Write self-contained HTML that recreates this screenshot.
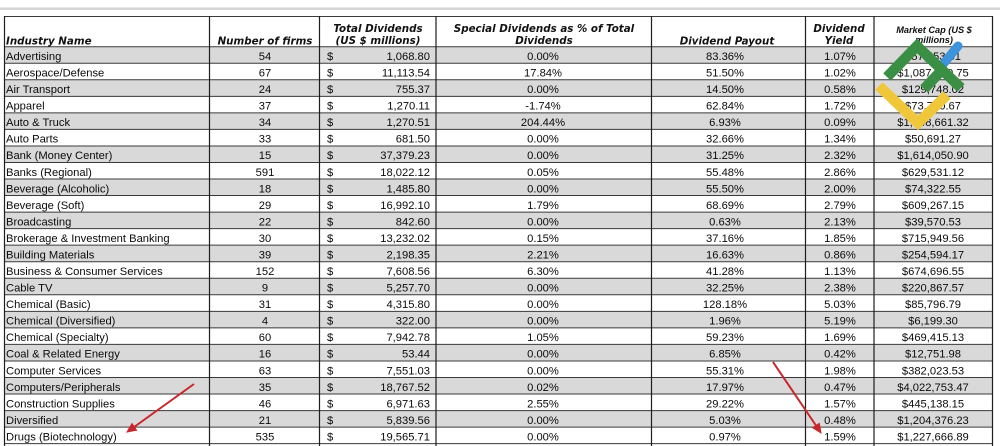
<!DOCTYPE html>
<html>
<head>
<meta charset="utf-8">
<style>
html,body{margin:0;padding:0;background:#fff;}
svg{display:block;}
.h{font-family:"DejaVu Sans","Liberation Sans",sans-serif;font-weight:bold;font-style:italic;font-size:10.3px;fill:#111;}
.m{font-family:"Liberation Sans",sans-serif;font-weight:bold;font-style:italic;font-size:9.2px;fill:#111;}
.d{font-family:"Liberation Sans",sans-serif;font-size:11.2px;fill:#0a0a0a;}
</style>
</head>
<body>
<svg width="1000" height="446" viewBox="0 0 1000 446" xmlns="http://www.w3.org/2000/svg">
<rect x="0" y="0" width="1000" height="446" fill="#fff"/>
<rect x="0" y="7.5" width="1000" height="2.5" fill="#d4d4d4"/>

<g fill="#d9d9d9">
<rect x="4" y="46.7" width="989" height="16.54"/>
<rect x="4" y="79.78" width="989" height="16.54"/>
<rect x="4" y="112.86" width="989" height="16.54"/>
<rect x="4" y="145.94" width="989" height="16.54"/>
<rect x="4" y="179.02" width="989" height="16.54"/>
<rect x="4" y="212.1" width="989" height="16.54"/>
<rect x="4" y="245.18" width="989" height="16.54"/>
<rect x="4" y="278.26" width="989" height="16.54"/>
<rect x="4" y="311.34" width="989" height="16.54"/>
<rect x="4" y="344.42" width="989" height="16.54"/>
<rect x="4" y="377.5" width="989" height="16.54"/>
<rect x="4" y="410.58" width="989" height="16.54"/>
</g>

<g stroke="#3a3a3a" stroke-width="1">
<line x1="4" y1="16.5" x2="993" y2="16.5"/>
<line x1="4" y1="46.7" x2="993" y2="46.7"/>
<line x1="4" y1="63.24" x2="993" y2="63.24"/>
<line x1="4" y1="79.78" x2="993" y2="79.78"/>
<line x1="4" y1="96.32" x2="993" y2="96.32"/>
<line x1="4" y1="112.86" x2="993" y2="112.86"/>
<line x1="4" y1="129.4" x2="993" y2="129.4"/>
<line x1="4" y1="145.94" x2="993" y2="145.94"/>
<line x1="4" y1="162.48" x2="993" y2="162.48"/>
<line x1="4" y1="179.02" x2="993" y2="179.02"/>
<line x1="4" y1="195.56" x2="993" y2="195.56"/>
<line x1="4" y1="212.1" x2="993" y2="212.1"/>
<line x1="4" y1="228.64" x2="993" y2="228.64"/>
<line x1="4" y1="245.18" x2="993" y2="245.18"/>
<line x1="4" y1="261.72" x2="993" y2="261.72"/>
<line x1="4" y1="278.26" x2="993" y2="278.26"/>
<line x1="4" y1="294.8" x2="993" y2="294.8"/>
<line x1="4" y1="311.34" x2="993" y2="311.34"/>
<line x1="4" y1="327.88" x2="993" y2="327.88"/>
<line x1="4" y1="344.42" x2="993" y2="344.42"/>
<line x1="4" y1="360.96" x2="993" y2="360.96"/>
<line x1="4" y1="377.5" x2="993" y2="377.5"/>
<line x1="4" y1="394.04" x2="993" y2="394.04"/>
<line x1="4" y1="410.58" x2="993" y2="410.58"/>
<line x1="4" y1="427.12" x2="993" y2="427.12"/>
<line x1="4" y1="443.66" x2="993" y2="443.66"/>
</g>
<g stroke="#1e1e1e" stroke-width="1.2">
<line x1="4.5" y1="16" x2="4.5" y2="446"/>
<line x1="209.5" y1="16" x2="209.5" y2="446"/>
<line x1="319.5" y1="16" x2="319.5" y2="446"/>
<line x1="436" y1="16" x2="436" y2="446"/>
<line x1="651.5" y1="16" x2="651.5" y2="446"/>
<line x1="805.5" y1="16" x2="805.5" y2="446"/>
<line x1="874" y1="16" x2="874" y2="446"/>
<line x1="992.5" y1="16" x2="992.5" y2="446"/>
</g>

<text class="h" x="6" y="44.5">Industry Name</text>
<text class="h" x="265" y="44.5" text-anchor="middle">Number of firms</text>
<text class="h" x="378" y="32" text-anchor="middle">Total Dividends</text>
<text class="h" x="378" y="44" text-anchor="middle">(US $ millions)</text>
<text class="h" x="544" y="32" text-anchor="middle">Special Dividends as % of Total</text>
<text class="h" x="544" y="44" text-anchor="middle">Dividends</text>
<text class="h" x="727" y="44.5" text-anchor="middle">Dividend Payout</text>
<text class="h" x="839" y="32" text-anchor="middle">Dividend</text>
<text class="h" x="839" y="44" text-anchor="middle">Yield</text>
<text class="m" x="934" y="33" text-anchor="middle">Market Cap (US $</text>
<text class="m" x="934" y="43" text-anchor="middle">millions)</text>

<g class="d">
<text x="6" y="60">Advertising</text>
<text x="6" y="76.54">Aerospace/Defense</text>
<text x="6" y="93.08">Air Transport</text>
<text x="6" y="109.62">Apparel</text>
<text x="6" y="126.16">Auto &amp; Truck</text>
<text x="6" y="142.7">Auto Parts</text>
<text x="6" y="159.24">Bank (Money Center)</text>
<text x="6" y="175.78">Banks (Regional)</text>
<text x="6" y="192.32">Beverage (Alcoholic)</text>
<text x="6" y="208.86">Beverage (Soft)</text>
<text x="6" y="225.4">Broadcasting</text>
<text x="6" y="241.94">Brokerage &amp; Investment Banking</text>
<text x="6" y="258.48">Building Materials</text>
<text x="6" y="275.02">Business &amp; Consumer Services</text>
<text x="6" y="291.56">Cable TV</text>
<text x="6" y="308.1">Chemical (Basic)</text>
<text x="6" y="324.64">Chemical (Diversified)</text>
<text x="6" y="341.18">Chemical (Specialty)</text>
<text x="6" y="357.72">Coal &amp; Related Energy</text>
<text x="6" y="374.26">Computer Services</text>
<text x="6" y="390.8">Computers/Peripherals</text>
<text x="6" y="407.34">Construction Supplies</text>
<text x="6" y="423.88">Diversified</text>
<text x="6" y="440.42">Drugs (Biotechnology)</text>
</g>

<g class="d" text-anchor="middle">
<text x="265" y="60">54</text>
<text x="265" y="76.54">67</text>
<text x="265" y="93.08">24</text>
<text x="265" y="109.62">37</text>
<text x="265" y="126.16">34</text>
<text x="265" y="142.7">33</text>
<text x="265" y="159.24">15</text>
<text x="265" y="175.78">591</text>
<text x="265" y="192.32">18</text>
<text x="265" y="208.86">29</text>
<text x="265" y="225.4">22</text>
<text x="265" y="241.94">30</text>
<text x="265" y="258.48">39</text>
<text x="265" y="275.02">152</text>
<text x="265" y="291.56">9</text>
<text x="265" y="308.1">31</text>
<text x="265" y="324.64">4</text>
<text x="265" y="341.18">60</text>
<text x="265" y="357.72">16</text>
<text x="265" y="374.26">63</text>
<text x="265" y="390.8">35</text>
<text x="265" y="407.34">46</text>
<text x="265" y="423.88">21</text>
<text x="265" y="440.42">535</text>
</g>

<g class="d">
<text x="327" y="60">$</text>
<text x="327" y="76.54">$</text>
<text x="327" y="93.08">$</text>
<text x="327" y="109.62">$</text>
<text x="327" y="126.16">$</text>
<text x="327" y="142.7">$</text>
<text x="327" y="159.24">$</text>
<text x="327" y="175.78">$</text>
<text x="327" y="192.32">$</text>
<text x="327" y="208.86">$</text>
<text x="327" y="225.4">$</text>
<text x="327" y="241.94">$</text>
<text x="327" y="258.48">$</text>
<text x="327" y="275.02">$</text>
<text x="327" y="291.56">$</text>
<text x="327" y="308.1">$</text>
<text x="327" y="324.64">$</text>
<text x="327" y="341.18">$</text>
<text x="327" y="357.72">$</text>
<text x="327" y="374.26">$</text>
<text x="327" y="390.8">$</text>
<text x="327" y="407.34">$</text>
<text x="327" y="423.88">$</text>
<text x="327" y="440.42">$</text>
</g>
<g class="d" text-anchor="end">
<text x="430" y="60">1,068.80</text>
<text x="430" y="76.54">11,113.54</text>
<text x="430" y="93.08">755.37</text>
<text x="430" y="109.62">1,270.11</text>
<text x="430" y="126.16">1,270.51</text>
<text x="430" y="142.7">681.50</text>
<text x="430" y="159.24">37,379.23</text>
<text x="430" y="175.78">18,022.12</text>
<text x="430" y="192.32">1,485.80</text>
<text x="430" y="208.86">16,992.10</text>
<text x="430" y="225.4">842.60</text>
<text x="430" y="241.94">13,232.02</text>
<text x="430" y="258.48">2,198.35</text>
<text x="430" y="275.02">7,608.56</text>
<text x="430" y="291.56">5,257.70</text>
<text x="430" y="308.1">4,315.80</text>
<text x="430" y="324.64">322.00</text>
<text x="430" y="341.18">7,942.78</text>
<text x="430" y="357.72">53.44</text>
<text x="430" y="374.26">7,551.03</text>
<text x="430" y="390.8">18,767.52</text>
<text x="430" y="407.34">6,971.63</text>
<text x="430" y="423.88">5,839.56</text>
<text x="430" y="440.42">19,565.71</text>
</g>

<g class="d" text-anchor="middle">
<text x="543" y="60">0.00%</text>
<text x="543" y="76.54">17.84%</text>
<text x="543" y="93.08">0.00%</text>
<text x="543" y="109.62">-1.74%</text>
<text x="543" y="126.16">204.44%</text>
<text x="543" y="142.7">0.00%</text>
<text x="543" y="159.24">0.00%</text>
<text x="543" y="175.78">0.05%</text>
<text x="543" y="192.32">0.00%</text>
<text x="543" y="208.86">1.79%</text>
<text x="543" y="225.4">0.00%</text>
<text x="543" y="241.94">0.15%</text>
<text x="543" y="258.48">2.21%</text>
<text x="543" y="275.02">6.30%</text>
<text x="543" y="291.56">0.00%</text>
<text x="543" y="308.1">0.00%</text>
<text x="543" y="324.64">0.00%</text>
<text x="543" y="341.18">1.05%</text>
<text x="543" y="357.72">0.00%</text>
<text x="543" y="374.26">0.00%</text>
<text x="543" y="390.8">0.02%</text>
<text x="543" y="407.34">2.55%</text>
<text x="543" y="423.88">0.00%</text>
<text x="543" y="440.42">0.00%</text>
</g>

<g class="d" text-anchor="middle">
<text x="725" y="60">83.36%</text>
<text x="725" y="76.54">51.50%</text>
<text x="725" y="93.08">14.50%</text>
<text x="725" y="109.62">62.84%</text>
<text x="725" y="126.16">6.93%</text>
<text x="725" y="142.7">32.66%</text>
<text x="725" y="159.24">31.25%</text>
<text x="725" y="175.78">55.48%</text>
<text x="725" y="192.32">55.50%</text>
<text x="725" y="208.86">68.69%</text>
<text x="725" y="225.4">0.63%</text>
<text x="725" y="241.94">37.16%</text>
<text x="725" y="258.48">16.63%</text>
<text x="725" y="275.02">41.28%</text>
<text x="725" y="291.56">32.25%</text>
<text x="725" y="308.1">128.18%</text>
<text x="725" y="324.64">1.96%</text>
<text x="725" y="341.18">59.23%</text>
<text x="725" y="357.72">6.85%</text>
<text x="725" y="374.26">55.31%</text>
<text x="725" y="390.8">17.97%</text>
<text x="725" y="407.34">29.22%</text>
<text x="725" y="423.88">5.03%</text>
<text x="725" y="440.42">0.97%</text>
</g>

<g class="d" text-anchor="middle">
<text x="840" y="60">1.07%</text>
<text x="840" y="76.54">1.02%</text>
<text x="840" y="93.08">0.58%</text>
<text x="840" y="109.62">1.72%</text>
<text x="840" y="126.16">0.09%</text>
<text x="840" y="142.7">1.34%</text>
<text x="840" y="159.24">2.32%</text>
<text x="840" y="175.78">2.86%</text>
<text x="840" y="192.32">2.00%</text>
<text x="840" y="208.86">2.79%</text>
<text x="840" y="225.4">2.13%</text>
<text x="840" y="241.94">1.85%</text>
<text x="840" y="258.48">0.86%</text>
<text x="840" y="275.02">1.13%</text>
<text x="840" y="291.56">2.38%</text>
<text x="840" y="308.1">5.03%</text>
<text x="840" y="324.64">5.19%</text>
<text x="840" y="341.18">1.69%</text>
<text x="840" y="357.72">0.42%</text>
<text x="840" y="374.26">1.98%</text>
<text x="840" y="390.8">0.47%</text>
<text x="840" y="407.34">1.57%</text>
<text x="840" y="423.88">0.48%</text>
<text x="840" y="440.42">1.59%</text>
</g>

<g class="d" text-anchor="middle">
<text x="933" y="60">$57,553.31</text>
<text x="933" y="76.54">$1,087,140.75</text>
<text x="933" y="93.08">$129,748.02</text>
<text x="933" y="109.62">$73,750.67</text>
<text x="933" y="126.16">$1,348,661.32</text>
<text x="933" y="142.7">$50,691.27</text>
<text x="933" y="159.24">$1,614,050.90</text>
<text x="933" y="175.78">$629,531.12</text>
<text x="933" y="192.32">$74,322.55</text>
<text x="933" y="208.86">$609,267.15</text>
<text x="933" y="225.4">$39,570.53</text>
<text x="933" y="241.94">$715,949.56</text>
<text x="933" y="258.48">$254,594.17</text>
<text x="933" y="275.02">$674,696.55</text>
<text x="933" y="291.56">$220,867.57</text>
<text x="933" y="308.1">$85,796.79</text>
<text x="933" y="324.64">$6,199.30</text>
<text x="933" y="341.18">$469,415.13</text>
<text x="933" y="357.72">$12,751.98</text>
<text x="933" y="374.26">$382,023.53</text>
<text x="933" y="390.8">$4,022,753.47</text>
<text x="933" y="407.34">$445,138.15</text>
<text x="933" y="423.88">$1,204,376.23</text>
<text x="933" y="440.42">$1,227,666.89</text>
</g>

<g fill="none" stroke-linecap="butt" stroke-linejoin="miter">
<polyline points="879,86 918,123 947,95" stroke="#f0c63a" stroke-width="10.5"/>
<line x1="940" y1="68" x2="958" y2="46" stroke="#3d93dc" stroke-width="9" stroke-linecap="round"/>
<polyline points="887,77 917,46 961,88" stroke="#3a8f45" stroke-width="10.5"/>
<line x1="924" y1="89" x2="942" y2="70" stroke="#3a8f45" stroke-width="10.5"/>
</g>

<g stroke="#c8262a" stroke-width="2" fill="#c8262a">
<line x1="194" y1="384" x2="132" y2="428.5"/>
<polygon points="127,432 136.6,430.1 132,423.5" stroke-width="1"/>
<line x1="773" y1="362" x2="817" y2="427"/>
<polygon points="821,433 812.7,427.7 819.3,423.3" stroke-width="1"/>
</g>
</svg>
</body>
</html>
